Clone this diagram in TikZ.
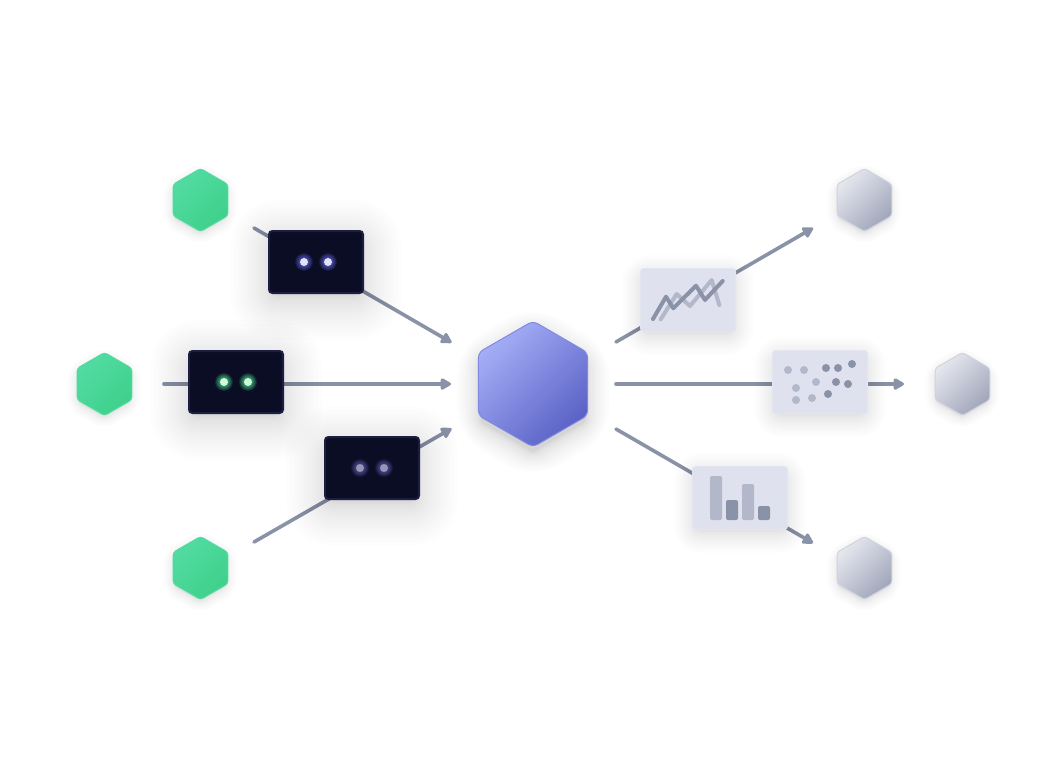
\documentclass[tikz,border=0pt]{standalone}
\usetikzlibrary{shapes.geometric,arrows.meta}
\definecolor{edgecol}{HTML}{8A92A8}
\definecolor{darkfill}{HTML}{0B0D24}
\definecolor{darkedge}{HTML}{1B1E42}
\definecolor{lightfill}{HTML}{DFE1EE}
\definecolor{lightedge}{HTML}{E3E5F0}
\definecolor{chartdark}{HTML}{8A92A8}
\definecolor{chartlight}{HTML}{B3B7CA}
\definecolor{glowblue}{HTML}{6264E0}
\definecolor{glowgreen}{HTML}{46D88C}
\definecolor{glowdim}{HTML}{5A5AB0}
\definecolor{dotblue}{HTML}{E2E2FA}
\definecolor{dotgreen}{HTML}{D0FBD8}
\definecolor{dotdim}{HTML}{9496B2}
\definecolor{green1}{HTML}{52DBA2}
\definecolor{green2}{HTML}{3ED18B}
\definecolor{green3}{HTML}{52DBA0}
\definecolor{grey1}{HTML}{E6E8EF}
\definecolor{grey2}{HTML}{A0A5BA}
\definecolor{grey3}{HTML}{D0D3DE}
\definecolor{core1}{HTML}{A4AEF6}
\definecolor{core2}{HTML}{5A62C6}
\definecolor{core3}{HTML}{8088E2}
\tikzset{
  x=0.75pt,y=-0.75pt,
  hexbase/.style={regular polygon,regular polygon sides=6,shape border rotate=30,inner sep=0pt,outer sep=0pt,
    rounded corners=2.25pt,line width=0.75pt},
  greenhex/.style={hexbase,minimum size=47.25pt,top color=green1,bottom color=green2,shading angle=45,draw=green3},
  greyhex/.style={hexbase,minimum size=47.25pt,top color=grey1,bottom color=grey2,shading angle=45,draw=grey3},
  corehex/.style={hexbase,minimum size=94.5pt,top color=core1,bottom color=core2,shading angle=45,draw=core3,rounded corners=4pt},
  darkcard/.style={rectangle,inner sep=0pt,outer sep=0pt,minimum width=70.5pt,minimum height=46.5pt,
    rounded corners=2.5pt,fill=darkfill,draw=darkedge,line width=1.5pt},
  lightcard/.style={rectangle,inner sep=0pt,outer sep=0pt,minimum width=71.25pt,minimum height=47.25pt,
    rounded corners=2.5pt,fill=lightfill,draw=lightedge,line width=.75pt},
  flow/.style={draw=edgecol,line width=2.7pt,line cap=round,
    -{Triangle[length=9pt,width=9.5pt,round=false]}},
  tracedark/.style={draw=chartdark,line width=3pt,line cap=round,line join=round},
  tracelight/.style={draw=chartlight,line width=3pt,line cap=round,line join=round},
}
% soft shadow of a rectangle: centre x, y, half w, half h, opacity per layer, extent px
\newcommand{\rectshadow}[6]{%
  \foreach \k in {1,...,22}{%
    \pgfmathsetmacro{\gx}{#6*(\k/22)^2-4}%
    \pgfmathsetlengthmacro{\rad}{(\gx+6)*0.75pt}%
    \fill[black,opacity=#5,rounded corners=\rad]
      ({#1-#3-\gx},{#2-#4-\gx}) rectangle ({#1+#3+\gx},{#2+#4+\gx});
  }}
% soft shadow of a hexagon: centre x, y, radius, opacity per layer, extent px
\newcommand{\hexshadow}[5]{%
  \foreach \k in {1,...,14}{%
    \pgfmathsetmacro{\rr}{#3+#5*(\k/14)^2-2}%
    \pgfmathsetlengthmacro{\rad}{(#5*(\k/14)^2+2)*0.75pt}%
    \fill[black,opacity=#4,rounded corners=\rad]
      (#1,{#2-\rr}) -- ({#1+.866*\rr},{#2-.5*\rr}) -- ({#1+.866*\rr},{#2+.5*\rr}) --
      (#1,{#2+\rr}) -- ({#1-.866*\rr},{#2+.5*\rr}) -- ({#1-.866*\rr},{#2-.5*\rr}) -- cycle;
  }}
% glowing dot: x, y, dot colour, glow colour
\newcommand{\lamp}[4]{%
  \foreach \k in {1,...,10}{%
    \fill[#4,opacity=0.14] (#1,#2) circle[radius={4+5*(\k/10)^2}];
  }
  \fill[#3] (#1,#2) circle[radius=4];
}
\begin{document}
\begin{tikzpicture}
\useasboundingbox (0,0) rectangle (1064,768);
\fill[white] (0,0) rectangle (1064,768);

% free ends of connectors
\coordinate (ain) at (254,228);  \coordinate (aout) at (451.5,342.5);
\coordinate (bin) at (164,384);  \coordinate (bout) at (451,384);
\coordinate (cin) at (254,542);  \coordinate (cout) at (451.5,428.5);
\coordinate (din) at (616,342);  \coordinate (dout) at (813,228);
\coordinate (ein) at (616,384);  \coordinate (eout) at (904,384);
\coordinate (fin) at (616,429);  \coordinate (fout) at (813,543);

\draw[flow] (ain) -- (aout);
\draw[flow] (bin) -- (bout);
\draw[flow] (cin) -- (cout);
\draw[flow] (din) -- (dout);
\draw[flow] (ein) -- (eout);
\draw[flow] (fin) -- (fout);

% hexagon shadows
\hexshadow{200}{204}{31}{0.007}{14}
\hexshadow{104}{388}{31}{0.007}{14}
\hexshadow{200}{572}{31}{0.007}{14}
\hexshadow{864}{204}{31}{0.007}{14}
\hexshadow{962}{388}{31}{0.007}{14}
\hexshadow{864}{572}{31}{0.007}{14}
\hexshadow{533}{392}{62}{0.011}{28}

% hexagons
\node[greenhex] (srctop) at (200.5,200) {};
\node[greenhex] (srcmid) at (104.5,384) {};
\node[greenhex] (srcbot) at (200.5,568) {};
\node[corehex] (core) at (533,384) {};
\node[greyhex] (dsttop) at (864.5,200) {};
\node[greyhex] (dstmid) at (962.5,384) {};
\node[greyhex] (dstbot) at (864.5,568) {};

% dark cards
\rectshadow{316}{270}{44}{28}{0.008}{46}
\rectshadow{236}{390}{44}{28}{0.008}{46}
\rectshadow{372}{476}{44}{28}{0.008}{46}
\node[darkcard] (cardtop) at (316,262) {};
\node[darkcard] (cardmid) at (236,382) {};
\node[darkcard] (cardbot) at (372,468) {};
\lamp{304}{262}{dotblue}{glowblue}
\lamp{328}{262}{dotblue}{glowblue}
\lamp{224}{382}{dotgreen}{glowgreen}
\lamp{248}{382}{dotgreen}{glowgreen}
\lamp{360}{468}{dotdim}{glowdim}
\lamp{384}{468}{dotdim}{glowdim}

% light cards
\rectshadow{688}{305}{44}{28}{0.007}{26}
\rectshadow{820}{387}{44}{28}{0.007}{26}
\rectshadow{740}{503}{44}{28}{0.007}{26}
\node[lightcard] (cardline) at (688,300) {};
\node[lightcard] (cardscatter) at (820,382) {};
\node[lightcard] (cardbars) at (740,498) {};

% line chart
\draw[tracelight] (660.7,319.3) -- (676.7,294) -- (690,306) -- (711.7,280) -- (719.3,305);
\draw[tracedark] (653,319) -- (666,296.7) -- (673.3,308.3) -- (696,285.7) -- (705,300) -- (722.7,281);

% scatter chart
\foreach \px/\py in {788/370,804/370,796/388,816/382,796/400,812/398}
  \fill[chartlight] (\px,\py) circle[radius=4];
\foreach \px/\py in {826/368,838/368,852/364,836/382,848/384,828/394}
  \fill[chartdark] (\px,\py) circle[radius=4];

% bar chart
\fill[chartlight,rounded corners=1.5pt] (710,476) rectangle (722,520);
\fill[chartdark,rounded corners=1.5pt] (726,500) rectangle (738,520);
\fill[chartlight,rounded corners=1.5pt] (742,484) rectangle (754,520);
\fill[chartdark,rounded corners=1.5pt] (758,506) rectangle (770,520);
\end{tikzpicture}
\end{document}
